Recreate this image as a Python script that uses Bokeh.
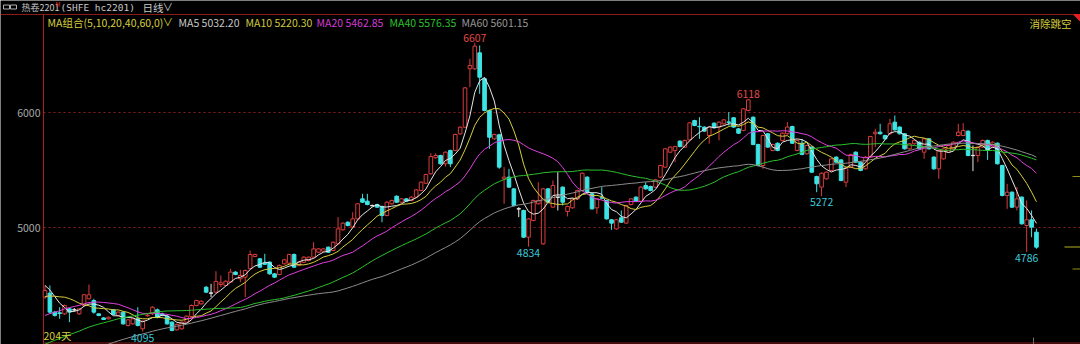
import numpy as np
import pandas as pd
from bokeh.plotting import figure
from bokeh.models import Range1d
from bokeh.embed import file_html
from bokeh.resources import INLINE
from bokeh.core.properties import value

# ---------------- data ----------------
opens = [4394, 4429, 4264, 4258, 4249, 4293, 4284, 4249, 4322, 4380,
         4365, 4249, 4214, 4206, 4284, 4235, 4264, 4148, 4162, 4206,
         4119, 4232, 4249, 4284, 4249, 4229, 4177, 4110, 4119, 4177,
         4226, 4322, 4336, 4481, 4430, 4438, 4504, 4496, 4525, 4612,
         4554, 4568, 4641, 4748, 4728, 4688, 4699, 4597, 4591, 4684,
         4690, 4765, 4670, 4698, 4713, 4742, 4785, 4794, 4829, 4800,
         4858, 4980, 5046, 5003, 5075, 5249, 5229, 5190, 5200, 5183,
         5104, 5206, 5272, 5220, 5249, 5235, 5264, 5322, 5385, 5467,
         5606, 5626, 5554, 5670, 5670, 5814, 5872, 6380, 6380, 6519,
         6293, 6017, 5771, 5806, 5423, 5438, 5336, 5162, 5148, 4916,
         5061, 5206, 4858, 5336, 5177, 5264, 5351, 5139, 5171, 5249,
         5322, 5438, 5293, 5171, 5258, 5235, 5067, 4988, 5084, 5038,
         5200, 5264, 5229, 5365, 5357, 5351, 5438, 5525, 5655, 5670,
         5751, 5699, 5762, 5930, 5880, 5873, 5800, 5907, 5873, 5902,
         5918, 5954, 5858, 5844, 6017, 5959, 5722, 5539, 5815, 5670,
         5733, 5757, 5815, 5878, 5670, 5733, 5641, 5699, 5443, 5351,
         5423, 5496, 5612, 5588, 5394, 5525, 5655, 5568, 5510, 5617,
         5815, 5829, 5800, 5815, 5916, 5873, 5815, 5684, 5728, 5742,
         5655, 5771, 5612, 5510, 5597, 5655, 5684, 5800, 5800, 5838,
         5626, 5626, 5699, 5757, 5699, 5733, 5539, 5278, 5307, 5177,
         5264, 5017, 5067, 4959]
highs = [4496, 4496, 4275, 4307, 4330, 4300, 4300, 4300, 4420, 4504,
         4380, 4255, 4220, 4225, 4290, 4270, 4270, 4205, 4212, 4307,
         4190, 4250, 4315, 4295, 4260, 4235, 4185, 4165, 4185, 4235,
         4330, 4372, 4365, 4490, 4510, 4620, 4583, 4540, 4641, 4620,
         4632, 4635, 4800, 4772, 4735, 4771, 4705, 4605, 4678, 4728,
         4772, 4775, 4705, 4750, 4748, 4872, 4820, 4820, 4835, 4880,
         5090, 5045, 5053, 5133, 5213, 5293, 5293, 5200, 5206, 5190,
         5228, 5242, 5280, 5256, 5256, 5271, 5335, 5401, 5468, 5646,
         5646, 5633, 5662, 5677, 5816, 5880, 6222, 6467, 6607, 6583,
         6300, 6025, 5816, 5814, 5525, 5510, 5343, 5177, 5155, 5082,
         5242, 5394, 5343, 5343, 5409, 5481, 5358, 5190, 5256, 5329,
         5479, 5445, 5300, 5256, 5351, 5242, 5074, 5074, 5148, 5198,
         5256, 5271, 5358, 5394, 5364, 5422, 5546, 5691, 5706, 5711,
         5758, 5764, 5917, 5937, 5959, 5880, 5880, 5914, 5923, 5943,
         6003, 5961, 5865, 6039, 6118, 5966, 5729, 5807, 5822, 5729,
         5740, 5827, 5916, 5885, 5764, 5771, 5720, 5706, 5450, 5479,
         5488, 5604, 5619, 5595, 5526, 5642, 5662, 5575, 5619, 5798,
         5858, 5902, 5807, 5945, 5974, 5880, 5822, 5735, 5764, 5749,
         5778, 5778, 5619, 5677, 5691, 5720, 5749, 5902, 5907, 5845,
         5713, 5706, 5764, 5764, 5749, 5740, 5546, 5380, 5314, 5351,
         5271, 5235, 5148, 4990]
lows = [4380, 4250, 4225, 4206, 4240, 4177, 4270, 4240, 4315, 4375,
        4250, 4228, 4195, 4200, 4238, 4228, 4155, 4140, 4155, 4140,
        4095, 4225, 4240, 4210, 4228, 4155, 4098, 4105, 4112, 4170,
        4220, 4315, 4330, 4430, 4394, 4430, 4481, 4490, 4518, 4585,
        4525, 4394, 4635, 4742, 4648, 4675, 4590, 4560, 4585, 4678,
        4684, 4648, 4662, 4690, 4705, 4735, 4778, 4788, 4778, 4794,
        4850, 4972, 5010, 4996, 5068, 5213, 5193, 5183, 5170, 5046,
        5097, 5199, 5213, 5213, 5222, 5228, 5257, 5315, 5378, 5460,
        5600, 5547, 5530, 5525, 5663, 5807, 5865, 6220, 6370, 6162,
        6010, 5684, 5764, 5510, 5206, 5344, 5184, 5090, 4909, 4834,
        5054, 5199, 4850, 5213, 5170, 5148, 5191, 5096, 5164, 5242,
        5315, 5300, 5155, 5119, 5245, 5068, 4980, 4981, 5040, 5031,
        5193, 5222, 5222, 5329, 5315, 5344, 5431, 5518, 5648, 5568,
        5697, 5692, 5755, 5880, 5771, 5831, 5728, 5860, 5757, 5895,
        5887, 5866, 5813, 5837, 6010, 5715, 5532, 5510, 5692, 5663,
        5663, 5750, 5808, 5726, 5663, 5628, 5634, 5474, 5307, 5272,
        5416, 5489, 5561, 5402, 5351, 5518, 5561, 5489, 5503, 5610,
        5699, 5808, 5764, 5808, 5842, 5808, 5677, 5677, 5721, 5677,
        5597, 5677, 5503, 5423, 5590, 5648, 5677, 5793, 5793, 5619,
        5490, 5568, 5692, 5588, 5692, 5547, 5271, 5162, 5170, 5148,
        5025, 4786, 4916, 4815]
closes = [4452, 4264, 4235, 4252, 4322, 4264, 4284, 4293, 4415, 4415,
          4264, 4235, 4200, 4220, 4244, 4264, 4162, 4197, 4206, 4148,
          4186, 4238, 4307, 4220, 4235, 4162, 4104, 4157, 4177, 4229,
          4322, 4365, 4359, 4438, 4430, 4531, 4519, 4533, 4612, 4591,
          4583, 4626, 4765, 4765, 4655, 4680, 4597, 4568, 4670, 4719,
          4765, 4655, 4699, 4742, 4742, 4814, 4814, 4814, 4785, 4872,
          4988, 5038, 5017, 5075, 5206, 5220, 5200, 5190, 5177, 5104,
          5220, 5235, 5220, 5249, 5229, 5264, 5327, 5394, 5461, 5617,
          5626, 5554, 5655, 5554, 5809, 5872, 6214, 6409, 6577, 6307,
          6017, 5785, 5809, 5525, 5438, 5351, 5191, 5162, 4916, 5075,
          5235, 5235, 5336, 5220, 5365, 5264, 5220, 5183, 5249, 5322,
          5472, 5307, 5162, 5249, 5256, 5075, 5038, 5067, 5046, 5191,
          5249, 5229, 5351, 5336, 5322, 5415, 5539, 5684, 5699, 5704,
          5704, 5757, 5910, 5887, 5876, 5838, 5873, 5867, 5916, 5936,
          5914, 5873, 5820, 6032, 6110, 5722, 5539, 5800, 5699, 5722,
          5670, 5820, 5873, 5733, 5757, 5635, 5713, 5481, 5380, 5472,
          5481, 5597, 5568, 5409, 5519, 5635, 5568, 5496, 5612, 5791,
          5829, 5815, 5771, 5902, 5849, 5815, 5684, 5728, 5757, 5684,
          5771, 5684, 5510, 5670, 5684, 5713, 5742, 5829, 5844, 5626,
          5626, 5699, 5757, 5670, 5742, 5554, 5278, 5307, 5177, 5249,
          5032, 5067, 5003, 4829]
# closes before the visible window (only feed the moving averages)
prior_closes = [3320, 3300, 3340, 3360, 3330, 3350, 3380, 3370, 3360, 3390,
                3410, 3380, 3400, 3390, 3400, 3420, 3440, 3460, 3475, 3500,
                3560, 3590, 3620, 3600, 3640, 3670, 3700, 3680, 3710, 3740,
                3730, 3760, 3780, 3760, 3800, 3820, 3850, 3850, 3900, 3940,
                3950, 3980, 4010, 3990, 4040, 4080, 4100, 4150, 4180, 4220,
                4220, 4260, 4300, 4350, 4390, 4460, 4520, 4540, 4508]
ma_periods = [5, 10, 20, 40, 60]
ma_names = ["MA5", "MA10", "MA20", "MA40", "MA60"]
ma_last_text = ["5032.20", "5220.30", "5462.85", "5576.35", "5601.15"]
y_ticks = [5000, 6000]
ma_combo_label = "MA组合(5,10,20,40,60,0)"
title_main = "热卷2201"
title_code = "(SHFE hc2201)"
period_label = "日线"
day_count_label = "204天"
gap_label = "消除跳空"

# ---------------- styles ----------------
BG = "#000000"
RED = "#d83c3c"
CYAN = "#3ce4e4"
WHITE = "#e8e8e8"
MA_COLORS = ["#e6e6e6", "#d6cf3c", "#e040e0", "#2cc02c", "#8c8c8c"]
MA_TEXT_COLORS = ["#c8c8c8", "#cfc83c", "#d23cd2", "#2cc02c", "#969696"]
FONT = value("Noto Sans CJK SC")

W, H = 1080, 344
X0, DX = 44.5, 4.884          # pixel of first candle, pixel step
Y6000, PXU = 112.0, 0.115      # pixel of 6000, pixels per price unit

n = len(closes)
idx = np.arange(n)
o = np.array(opens, float); c = np.array(closes, float)
hi = np.array(highs, float); lo = np.array(lows, float)

allc = pd.Series(prior_closes + closes, dtype=float)
mas = [allc.rolling(m).mean().to_numpy()[-n:] for m in ma_periods]

p = figure(width=W, height=H, output_backend="svg", toolbar_location=None,
           x_axis_location=None, y_axis_location=None, min_border=0,
           background_fill_color=BG, border_fill_color=BG, outline_line_color=None,
           x_range=Range1d(-X0 / DX, (W - X0) / DX),
           y_range=Range1d(6000 - (H - Y6000) / PXU, 6000 + Y6000 / PXU))
p.grid.visible = False
p.extra_x_ranges = {"px": Range1d(0, W)}
p.extra_y_ranges = {"px": Range1d(H, 0)}
PX = dict(x_range_name="px", y_range_name="px")

# grid lines and tick labels
p.segment(x0=[43] * len(y_ticks), x1=[W] * len(y_ticks), y0=y_ticks, y1=y_ticks,
          x_range_name="px", line_color="#8a1e1e", line_dash="2 3", line_width=1)
p.text(x=[40] * len(y_ticks), y=y_ticks, text=[str(t) for t in y_ticks],
       x_range_name="px", text_align="right", text_baseline="middle",
       text_font=FONT, text_font_size="10.5px", text_color="#a8a8a8")

# frame lines
p.segment(x0=[0, 43, 43], y0=[14, 14, 342.5], x1=[W, 43, W], y1=[14, 344, 342.5],
          line_color=["#8c1a1a", "#b01e1e", "#8c1a1a"], line_width=1, **PX)
p.patch(x=[1073, 1080, 1080], y=[14, 14, 21], color="#e02020", **PX)

# candles
up = c > o
dn = c < o
eq = c == o
colors = np.where(up, RED, np.where(dn, CYAN, WHITE))
p.segment(x0=idx, x1=idx, y0=lo, y1=hi, line_color=list(colors), line_width=1)
top = np.maximum(o, c); bot = np.minimum(o, c)
bw = 0.74
p.vbar(x=idx[up], width=bw, top=top[up], bottom=bot[up],
       fill_color=BG, line_color=RED, line_width=1)
p.vbar(x=idx[dn], width=bw, top=top[dn], bottom=bot[dn],
       fill_color=CYAN, line_color=CYAN, line_width=1)
p.vbar(x=idx[eq], width=bw, top=top[eq] + 1, bottom=bot[eq] - 1,
       fill_color=WHITE, line_color=WHITE, line_width=1)

# moving averages
for ma, col in zip(mas, MA_COLORS):
    p.line(idx, ma, line_color=col, line_width=1)

# extreme labels
hi_pts = [int(np.argmax(hi)), 144]
lo_pts = [int(np.argmin(lo[:60])), 99, 159, 201]
p.text(x=hi_pts, y=[hi[i] for i in hi_pts], text=[str(int(hi[i])) for i in hi_pts],
       text_align="center", text_baseline="bottom", y_offset=-1,
       text_font=FONT, text_font_size="10.5px", text_color="#e04848")
p.text(x=lo_pts, y=[lo[i] for i in lo_pts], text=[str(int(lo[i])) for i in lo_pts],
       text_align="center", text_baseline="top", y_offset=2,
       text_font=FONT, text_font_size="10.5px", text_color="#3cc8d8")

# header row 1
p.rect(x=[6, 13], y=[6.5, 6.5], width=6, height=4, fill_color=None,
       line_color="#b0b0b0", line_width=1, **PX)
p.text(x=[21], y=[7], text=[title_main], text_font=FONT, text_font_size="9px",
       text_color="#c8c8c8", text_baseline="middle", **PX)
p.text(x=[55], y=[4], text=["M"], text_font=FONT, text_font_size="6px",
       text_color="#e03030", text_baseline="middle", **PX)
p.text(x=[60], y=[7], text=[title_code], text_font=value("DejaVu Sans Mono"),
       text_font_size="9.5px", text_color="#c8c8c8", text_baseline="middle", **PX)
p.text(x=[142, 162], y=[7, 6], text=[period_label, "∨"], text_font=FONT,
       text_font_size="10.5px", text_color="#c8c8c8", text_baseline="middle", **PX)

# header row 2
p.text(x=[47, 162], y=[22, 21], text=[ma_combo_label, "∨"], text_font=FONT,
       text_font_size="10.5px", text_color="#d6cf3c", text_baseline="middle", **PX)
ma_x = [178, 245, 316, 389, 461]
p.text(x=ma_x, y=[22] * 5, text=[f"{a} {b}" for a, b in zip(ma_names, ma_last_text)],
       text_font=FONT, text_font_size="10.5px", text_color=MA_TEXT_COLORS,
       text_baseline="middle", **PX)
p.text(x=[1071], y=[23], text=[gap_label], text_font=FONT, text_font_size="10.5px",
       text_color="#d6cf3c", text_align="right", text_baseline="middle", **PX)

# bottom-left day count
p.text(x=[43], y=[335], text=[day_count_label], text_font=FONT, text_font_size="10.5px",
       text_color="#d6cf3c", text_baseline="middle", **PX)

# right edge markers
p.segment(x0=[1072, 1064, 1072, 1033], x1=[1080, 1080, 1080, 1033],
          y0=[176, 246.5, 268.5, 337], y1=[176, 246.5, 268.5, 344],
          line_color=["#8c8c20", "#b0b020", "#8c8c20", "#707070"], line_width=1, **PX)

open("out.html", "w").write(file_html(p, INLINE))
